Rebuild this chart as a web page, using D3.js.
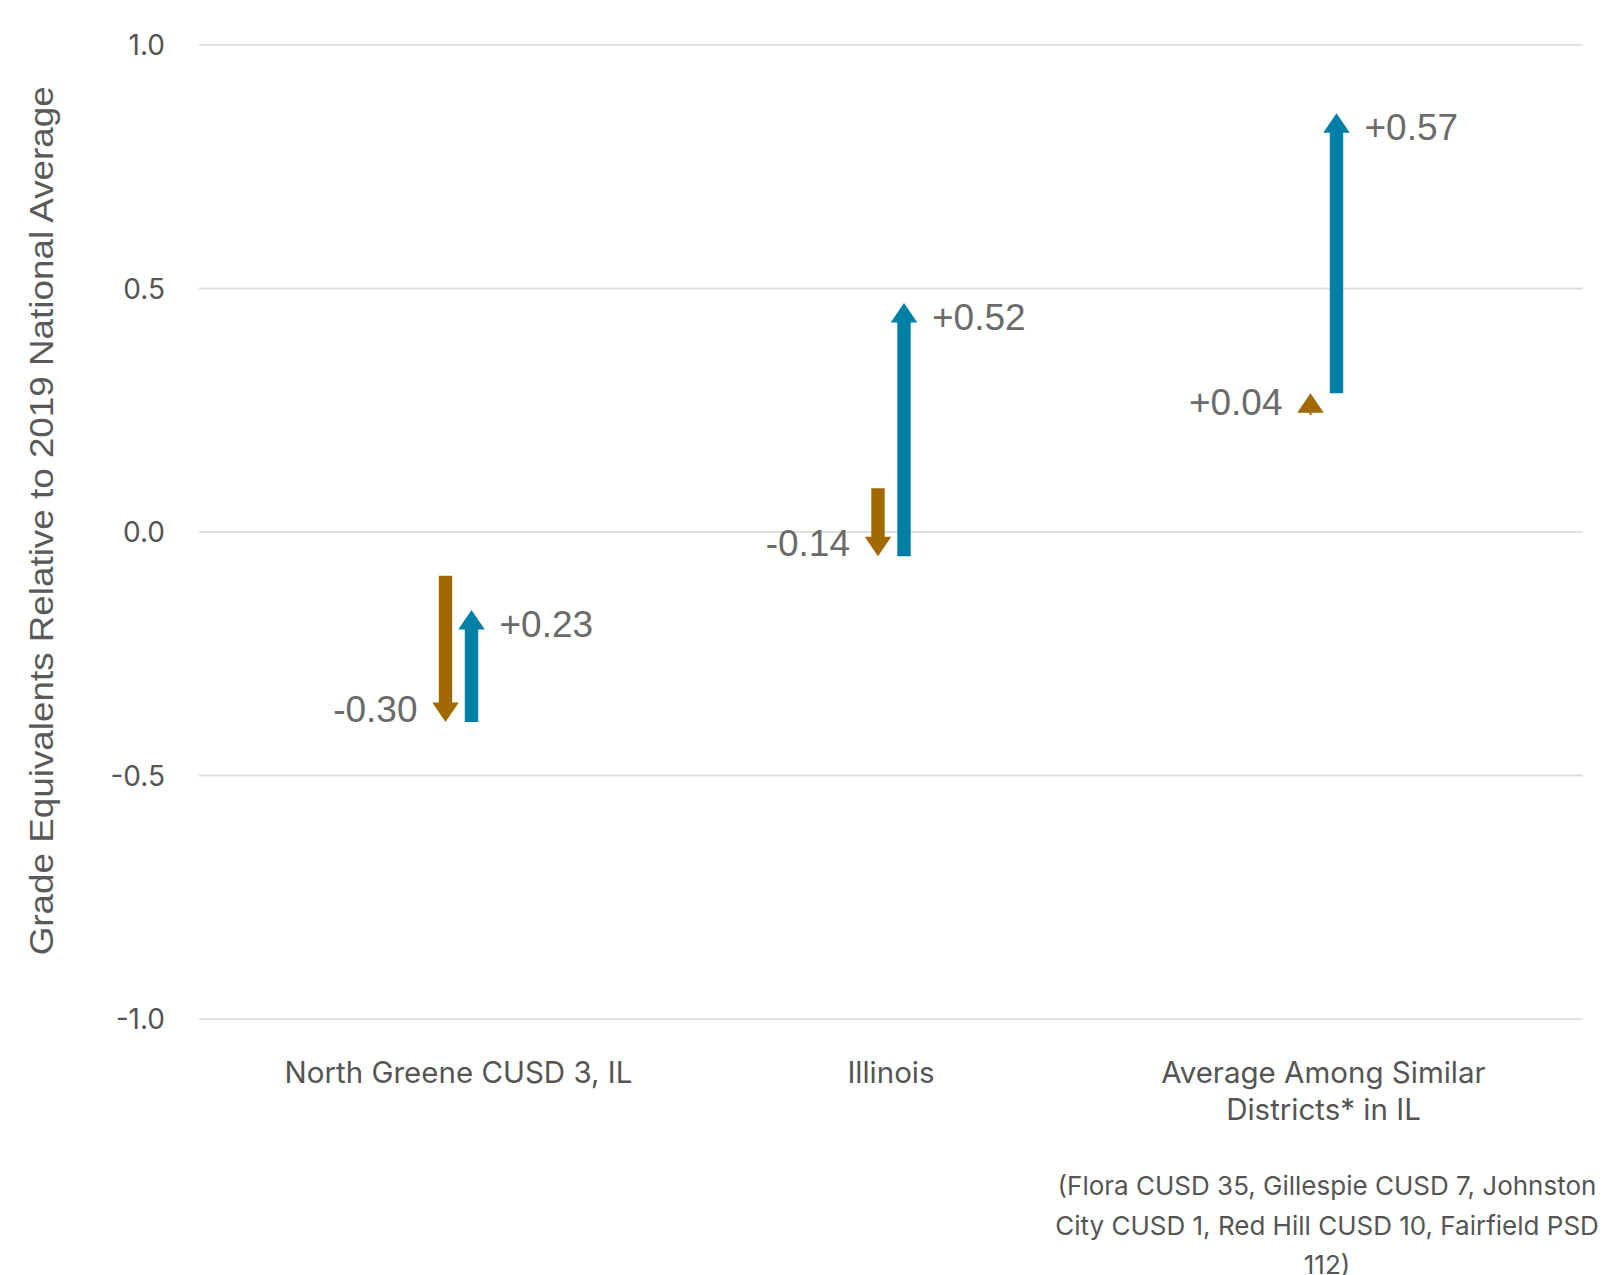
<!DOCTYPE html>
<html>
<head>
<meta charset="utf-8">
<script src="https://cdn.jsdelivr.net/npm/d3@7"></script>
<style>
    body { margin: 0; background: #fff; }
    svg { display: block; }
</style>
</head>
<body>
<svg id="chart" width="1603" height="1275"></svg>
<script>
"use strict";

// categories, one label line per entry
const categories = ["North Greene CUSD 3, IL", "Illinois", "Average Among Similar Districts* in IL"];
const categoryLines = [["North Greene CUSD 3, IL"], ["Illinois"], ["Average Among Similar", "Districts* in IL"]];

// grade equivalents relative to 2019 national average
const startValues = [-0.09, 0.09, 0.24];   // start of first (brown) arrow
const midValues = [-0.39, -0.05, 0.285];   // end of brown / start of blue arrow
const endValues = [-0.16, 0.47, 0.86];     // end of blue arrow

// change labels as printed on the chart
const dropLabels = ["-0.30", "-0.14", "+0.04"];
const gainLabels = ["+0.23", "+0.52", "+0.57"];

const yTicks = [-1.0, -0.5, 0.0, 0.5, 1.0];
const footnote = ["(Flora CUSD 35, Gillespie CUSD 7, Johnston", "City CUSD 1, Red Hill CUSD 10, Fairfield PSD", "112)"];

const brown = "#a36800";
const blue = "#0080a9";

const svg = d3.select("#chart");
const plotLeft = 199, plotRight = 1583, plotTop = 45, plotBottom = 1019;
const uiFont = "Inter, 'Noto Sans', sans-serif";

const x = d3.scalePoint()
    .domain(categories)
    .range([plotLeft, plotRight])
    .padding(0.6);

const y = d3.scaleLinear()
    .domain([-1, 1])
    .range([plotBottom, plotTop]);

// Gridlines
svg.append("g")
    .selectAll("line")
    .data(yTicks)
    .join("line")
    .attr("x1", plotLeft)
    .attr("x2", plotRight)
    .attr("y1", d => y(d))
    .attr("y2", d => y(d))
    .attr("stroke", "#e0e0e0")
    .attr("stroke-width", 2);

// Y tick labels
svg.append("g")
    .selectAll("text")
    .data(yTicks)
    .join("text")
    .attr("x", 165)
    .attr("y", d => y(d))
    .attr("dy", "0.36em")
    .attr("text-anchor", "end")
    .attr("font-family", uiFont)
    .attr("font-size", 28)
    .attr("fill", "#555")
    .text(d => d3.format(".1f")(d).replace("\u2212", "-"));

// Y axis title
svg.append("text")
    .attr("transform", "translate(53," + y(0.023) + ") rotate(-90)")
    .attr("text-anchor", "middle")
    .attr("font-family", "'Liberation Sans', Arial, sans-serif")
    .attr("font-size", 33)
    .attr("textLength", 869)
    .attr("lengthAdjust", "spacingAndGlyphs")
    .attr("fill", "#5a5a5a")
    .text("Grade Equivalents Relative to 2019 National Average");

// Category labels
categoryLines.forEach(function (lines, i) {
    svg.append("text")
        .attr("x", x(categories[i]))
        .attr("y", 1083)
        .attr("text-anchor", "middle")
        .attr("font-family", uiFont)
        .attr("font-size", 29.5)
        .attr("fill", "#555")
        .selectAll("tspan")
        .data(lines)
        .join("tspan")
        .attr("x", x(categories[i]))
        .attr("dy", (d, j) => j === 0 ? 0 : 37)
        .text(d => d);
});

// Footnote
svg.append("text")
    .attr("x", 1327)
    .attr("y", 1195)
    .attr("text-anchor", "middle")
    .attr("font-family", uiFont)
    .attr("font-size", 26)
    .attr("fill", "#555")
    .selectAll("tspan")
    .data(footnote)
    .join("tspan")
    .attr("x", 1327)
    .attr("dy", (d, j) => j === 0 ? 0 : 39.6)
    .text(d => d);

// Arrow as a polygon from value a to value b at pixel xc
function arrowPath(xc, a, b) {
    const y0 = y(a), y1 = y(b);
    const dir = y1 < y0 ? -1 : 1;
    const len = Math.abs(y1 - y0);
    const headLen = Math.min(19.5, len);
    const headHalf = 13.3;
    const shaftHalf = len > 2 * headLen ? 6.7 : 1;
    const yBase = y1 - dir * headLen;
    return "M" + (xc - shaftHalf) + "," + y0 +
        "L" + (xc - shaftHalf) + "," + yBase +
        "L" + (xc - headHalf) + "," + yBase +
        "L" + xc + "," + y1 +
        "L" + (xc + headHalf) + "," + yBase +
        "L" + (xc + shaftHalf) + "," + yBase +
        "L" + (xc + shaftHalf) + "," + y0 + "Z";
}

const labelFont = "'Liberation Sans', Arial, sans-serif";

categories.forEach(function (c, i) {
    const cx = x(c);
    const s = startValues[i], m = midValues[i], e = endValues[i];

    // first change (brown)
    svg.append("path")
        .attr("d", arrowPath(cx - 13, s, m))
        .attr("fill", brown);

    svg.append("text")
        .attr("x", cx - 41)
        .attr("y", y(Math.min(s, m)))
        .attr("text-anchor", "end")
        .attr("font-family", labelFont)
        .attr("font-size", 37)
        .attr("fill", "#6b6b6b")
        .text(dropLabels[i]);

    // second change (blue)
    svg.append("path")
        .attr("d", arrowPath(cx + 13, m, e))
        .attr("fill", blue);

    svg.append("text")
        .attr("x", cx + 41)
        .attr("y", y(Math.max(m, e)))
        .attr("dy", "0.72em")
        .attr("text-anchor", "start")
        .attr("font-family", labelFont)
        .attr("font-size", 37)
        .attr("fill", "#6b6b6b")
        .text(gainLabels[i]);
});
</script>
</body>
</html>
